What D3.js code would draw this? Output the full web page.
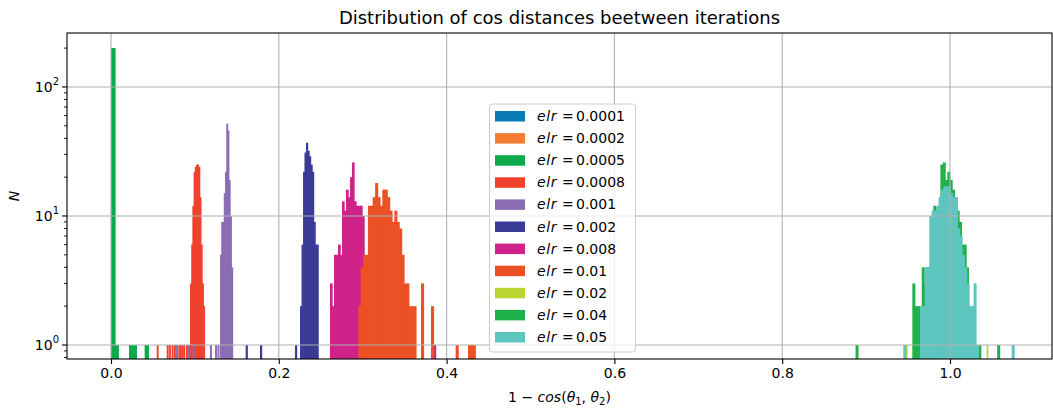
<!DOCTYPE html>
<html>
<head>
<meta charset="utf-8">
<script src="https://cdn.jsdelivr.net/npm/d3@7"></script>
<style>
  body { margin: 0; background: #fff; }
  text { font-family: "DejaVu Sans", sans-serif; fill: #000; }
</style>
</head>
<body>
<svg id="chart" width="1053" height="409"></svg>
<script>
// Learning-rate series, in legend / drawing order
const elrLabels = ["0.0001", "0.0002", "0.0005", "0.0008", "0.001", "0.002", "0.008", "0.01", "0.02", "0.04", "0.05"];
const elrColors = ["#0b7bb6", "#f47c30", "#0daa4b", "#f0412d", "#8b6db3", "#393b96", "#cf2389", "#ec5126", "#bdd634", "#20b14b", "#5dc6bf"];
const binWidths = [0.0043, 0.0043, 0.0043, 0.00143, 0.00149, 0.00179, 0.00238, 0.00286, 0.0012, 0.00278, 0.00278];

// Histogram bins: [left edge, count]
const bins0001 = [[0, 200]];
const bins0002 = [[0, 200]];
const bins0005 = [[0, 200], [0.0043, 1], [0.0215, 1], [0.0258, 1], [0.0401, 1]];
const bins0008 = [
  [0.0545, 1], [0.0664, 1], [0.0691, 1], [0.0723, 1], [0.0751, 1], [0.0802, 1], [0.0822, 1],
  [0.0843, 1], [0.0862, 1], [0.0894, 1], [0.0921, 1],
  [0.0942, 3], [0.0956, 6], [0.0970, 12], [0.0985, 22], [0.0999, 24], [0.1013, 25],
  [0.1028, 25], [0.1042, 24], [0.1056, 14], [0.1070, 6], [0.1085, 3], [0.1099, 2]
];
const bins001 = [
  [0.0775, 1], [0.0909, 1], [0.0974, 1], [0.1180, 1], [0.1240, 1], [0.1269, 1],
  [0.1299, 5], [0.1314, 9], [0.1329, 9], [0.1344, 15], [0.1359, 22], [0.1374, 52],
  [0.1388, 46], [0.1403, 19], [0.1418, 10], [0.1433, 4]
];
const bins002 = [
  [0.1605, 1], [0.1776, 1], [0.2193, 1],
  [0.2253, 2], [0.2271, 6], [0.2289, 22], [0.2306, 31], [0.2324, 37], [0.2342, 32],
  [0.2360, 29], [0.2378, 25], [0.2396, 22], [0.2414, 9], [0.2432, 6], [0.2450, 6]
];
const bins008 = [
  [0.2610, 3], [0.2634, 2], [0.2658, 5], [0.2682, 5], [0.2706, 6], [0.2729, 5], [0.2753, 13],
  [0.2777, 11], [0.2801, 16], [0.2825, 14], [0.2849, 20], [0.2872, 26], [0.2896, 13],
  [0.2920, 12], [0.2944, 12], [0.2968, 12], [0.2992, 10], [0.3844, 1]
];
const bins01 = [
  [0.2948, 2], [0.2976, 4], [0.3005, 5], [0.3033, 5], [0.3062, 12], [0.3091, 12], [0.3119, 14],
  [0.3148, 18], [0.3176, 14], [0.3205, 12], [0.3234, 16], [0.3262, 16], [0.3291, 14],
  [0.3319, 11], [0.3348, 9], [0.3377, 11], [0.3405, 9], [0.3434, 8], [0.3462, 5],
  [0.3491, 3], [0.3520, 3], [0.3548, 2], [0.3577, 2], [0.3605, 2],
  [0.3695, 3], [0.3814, 2], [0.4108, 1], [0.4255, 1], [0.4284, 1], [0.4312, 1]
];
const bins02 = [[0.9476, 1], [0.9694, 3], [1.0437, 1]];
const bins04 = [
  [0.8874, 1],
  [0.9551, 3], [0.9579, 2], [0.9607, 2], [0.9635, 2], [0.9663, 4], [0.9690, 3], [0.9718, 4],
  [0.9746, 4], [0.9774, 10], [0.9801, 12], [0.9829, 11], [0.9857, 12], [0.9885, 25],
  [0.9913, 26], [0.9940, 19], [0.9968, 22], [0.9996, 19], [1.0024, 16], [1.0051, 13],
  [1.0079, 11], [1.0107, 9], [1.0135, 6], [1.0163, 6], [1.0190, 4], [1.0218, 2], [1.0246, 1],
  [1.0337, 1], [1.0562, 1]
];
const bins05 = [
  [0.9443, 1],
  [0.9642, 2], [0.9670, 2], [0.9698, 4], [0.9725, 4], [0.9753, 10], [0.9781, 11], [0.9809, 11],
  [0.9837, 12], [0.9864, 14], [0.9892, 16], [0.9920, 17], [0.9948, 17], [0.9976, 17],
  [1.0003, 15], [1.0031, 14], [1.0059, 14], [1.0087, 8], [1.0114, 7], [1.0142, 5],
  [1.0170, 4], [1.0198, 3], [1.0226, 2], [1.0253, 2], [1.0281, 3], [1.0309, 1],
  [1.0735, 1]
];
const seriesBins = [bins0001, bins0002, bins0005, bins0008, bins001, bins002, bins008, bins01, bins02, bins04, bins05];

const xTicks = [0, 0.2, 0.4, 0.6, 0.8, 1.0];
const yTicks = [1, 10, 100];
const yTickExp = ["0", "1", "2"];

const plot = { left: 67, right: 1052, top: 33, bottom: 359 };

const svg = d3.select("#chart");

const x = d3.scaleLinear().domain([-0.05244, 1.12157]).range([plot.left, plot.right]);
const y = d3.scaleLog().domain([0.779, 262]).range([plot.bottom, plot.top]);

svg.append("defs").append("clipPath").attr("id", "plotClip")
  .append("rect")
  .attr("x", plot.left).attr("y", plot.top)
  .attr("width", plot.right - plot.left).attr("height", plot.bottom - plot.top);

// Bars: each bin overlaps its right neighbour slightly so no seams show
const barsG = svg.append("g").attr("clip-path", "url(#plotClip)");
seriesBins.forEach((bins, i) => {
  const w = binWidths[i];
  barsG.append("g")
    .attr("fill", elrColors[i])
    .selectAll("rect")
    .data(bins)
    .join("rect")
    .attr("x", d => x(d[0]))
    .attr("width", d => x(d[0] + w) - x(d[0]) + 0.7)
    .attr("y", d => y(d[1]))
    .attr("height", d => plot.bottom - y(d[1]));
});

// Grid (drawn over the bars)
const gridG = svg.append("g").attr("stroke", "#b0b0b0").attr("stroke-width", 1.1);
gridG.selectAll("line.vx").data(xTicks).join("line")
  .attr("x1", d => x(d)).attr("x2", d => x(d))
  .attr("y1", plot.top).attr("y2", plot.bottom);
gridG.selectAll("line.hy").data(yTicks).join("line")
  .attr("x1", plot.left).attr("x2", plot.right)
  .attr("y1", d => y(d)).attr("y2", d => y(d));

// X axis
const xAxis = d3.axisBottom(x).tickValues(xTicks).tickFormat(d3.format(".1f"))
  .tickSize(5).tickPadding(4);
const xg = svg.append("g").attr("transform", `translate(0,${plot.bottom})`).call(xAxis);
xg.select(".domain").remove();
xg.selectAll("line").attr("stroke", "#000").attr("stroke-width", 1.1);
xg.selectAll("text").attr("font-size", 14).attr("font-family", "DejaVu Sans").attr("fill", "#000");

// Y axis: major ticks with power labels, minor ticks between
const minorTicks = [];
[0.1, 1, 10, 100].forEach(p => {
  for (let k = 2; k <= 9; k++) {
    const v = p * k;
    if (v >= y.domain()[0] && v <= y.domain()[1]) minorTicks.push(v);
  }
});
const yg = svg.append("g");
yg.selectAll("line.minor").data(minorTicks).join("line")
  .attr("x1", plot.left - 3).attr("x2", plot.left)
  .attr("y1", d => y(d)).attr("y2", d => y(d))
  .attr("stroke", "#000").attr("stroke-width", 0.9);
yg.selectAll("line.major").data(yTicks).join("line")
  .attr("x1", plot.left - 5).attr("x2", plot.left)
  .attr("y1", d => y(d)).attr("y2", d => y(d))
  .attr("stroke", "#000").attr("stroke-width", 1.1);
const yLab = yg.selectAll("text.ylab").data(yTicks).join("text")
  .attr("x", plot.left - 8).attr("y", d => y(d) + 5)
  .attr("text-anchor", "end").attr("font-size", 14);
yLab.append("tspan").text("10");
yLab.append("tspan").attr("dy", -7).attr("font-size", 10).text((d, i) => yTickExp[i]);

// Frame
svg.append("rect")
  .attr("x", plot.left).attr("y", plot.top)
  .attr("width", plot.right - plot.left).attr("height", plot.bottom - plot.top)
  .attr("fill", "none").attr("stroke", "#000").attr("stroke-width", 1.1);

// Title and axis labels
svg.append("text").attr("x", (plot.left + plot.right) / 2).attr("y", 24)
  .attr("text-anchor", "middle").attr("font-size", 18)
  .text("Distribution of cos distances beetween iterations");

svg.append("text").attr("transform", "translate(19,196) rotate(-90)")
  .attr("text-anchor", "middle").attr("font-size", 14).attr("font-style", "italic")
  .text("N");

const xl = svg.append("text").attr("x", (plot.left + plot.right) / 2).attr("y", 402)
  .attr("text-anchor", "middle").attr("font-size", 14);
xl.append("tspan").text("1 \u2212 ");
xl.append("tspan").attr("font-style", "italic").text("cos");
xl.append("tspan").text("(");
xl.append("tspan").attr("font-style", "italic").text("\u03b8");
xl.append("tspan").attr("dy", 3).attr("font-size", 10).text("1");
xl.append("tspan").attr("dy", -3).text(", ");
xl.append("tspan").attr("font-style", "italic").text("\u03b8");
xl.append("tspan").attr("dy", 3).attr("font-size", 10).text("2");
xl.append("tspan").attr("dy", -3).text(")");

// Legend
const leg = svg.append("g");
leg.append("rect")
  .attr("x", 489.5).attr("y", 104).attr("width", 146).attr("height", 248).attr("rx", 3)
  .attr("fill", "#fff").attr("fill-opacity", 0.8)
  .attr("stroke", "#cccccc").attr("stroke-width", 1);
const rows = leg.selectAll("g.row").data(elrLabels).join("g")
  .attr("transform", (d, i) => `translate(0,${116 + i * 22.1})`);
rows.append("rect")
  .attr("x", 495).attr("y", -5).attr("width", 30).attr("height", 10.5)
  .attr("fill", (d, i) => elrColors[i]);
const lt = rows.append("text").attr("y", 5).attr("font-size", 14);
lt.append("tspan").attr("x", 537).attr("font-style", "italic").attr("letter-spacing", 0.6).text("elr");
lt.append("tspan").attr("x", 562).attr("letter-spacing", 0).text("=");
lt.append("tspan").attr("x", 576).text(d => d);
</script>
</body>
</html>
